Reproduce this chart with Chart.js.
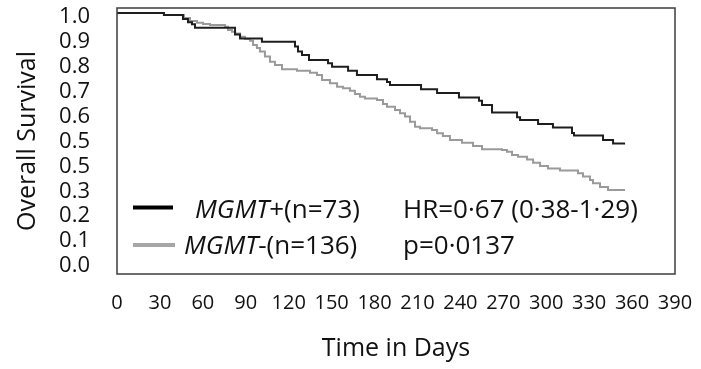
<!DOCTYPE html>
<html>
<head>
<meta charset="utf-8">
<script src="https://cdn.jsdelivr.net/npm/chart.js@4/dist/chart.umd.min.js"></script>
<style>
  html, body { margin: 0; padding: 0; background: #fff; }
  canvas { display: block; }
</style>
</head>
<body>
<canvas id="c" width="701" height="369"></canvas>
<script>
// ---- data ----
const mgmtPosDays = [0, 32.8, 46.1, 49.6, 52.4, 54.5, 82.5, 86.0, 101.3, 124.4, 126.5, 129.3, 134.2, 147.5, 150.3, 161.5, 167.7, 181.7, 188.7, 190.8, 212.5, 223.7, 239.0, 253.0, 255.1, 262.1, 279.6, 281.7, 294.3, 304.7, 318.0, 319.4, 339.7, 346.7, 355.1];
const mgmtPosSurv = [1.000, 0.992, 0.976, 0.963, 0.955, 0.941, 0.914, 0.898, 0.885, 0.865, 0.845, 0.831, 0.811, 0.798, 0.784, 0.768, 0.751, 0.734, 0.723, 0.711, 0.694, 0.679, 0.661, 0.648, 0.631, 0.600, 0.581, 0.570, 0.554, 0.540, 0.518, 0.508, 0.490, 0.476, 0.476];

const mgmtNegDays = [0, 32.8, 46.8, 51.0, 55.9, 60.1, 65.0, 75.5, 77.6, 80.4, 82.5, 86.0, 89.5, 93.0, 95.1, 97.8, 99.9, 103.4, 106.9, 110.4, 115.3, 125.8, 134.9, 139.8, 143.3, 148.9, 153.8, 158.0, 162.8, 166.3, 169.8, 173.3, 181.7, 185.9, 188.7, 194.3, 197.8, 201.3, 204.8, 208.3, 211.8, 220.2, 223.7, 227.8, 232.7, 241.1, 248.8, 255.1, 269.1, 272.6, 276.1, 280.3, 286.6, 290.8, 295.7, 301.2, 309.6, 322.2, 325.7, 330.6, 332.7, 337.6, 343.2, 355.1];
const mgmtNegSurv = [1.000, 0.992, 0.980, 0.968, 0.961, 0.956, 0.952, 0.945, 0.932, 0.925, 0.918, 0.905, 0.896, 0.889, 0.871, 0.859, 0.845, 0.825, 0.804, 0.791, 0.774, 0.768, 0.760, 0.751, 0.731, 0.718, 0.704, 0.698, 0.688, 0.675, 0.664, 0.657, 0.651, 0.635, 0.624, 0.610, 0.597, 0.584, 0.563, 0.543, 0.537, 0.530, 0.517, 0.506, 0.490, 0.479, 0.466, 0.453, 0.450, 0.443, 0.430, 0.423, 0.412, 0.399, 0.386, 0.376, 0.367, 0.356, 0.343, 0.329, 0.316, 0.301, 0.289, 0.289];

const xTickValues = [0, 30, 60, 90, 120, 150, 180, 210, 240, 270, 300, 330, 360, 390];
const xTickLabels = ["0", "30", "60", "90", "120", "150", "180", "210", "240", "270", "300", "330", "360", "390"];
const yTickValues = [0, 0.1, 0.2, 0.3, 0.4, 0.5, 0.6, 0.7, 0.8, 0.9, 1.0];
const yTickLabels = ["0.0", "0.1", "0.2", "0.3", "0.5", "0.5", "0.6", "0.7", "0.8", "0.9", "1.0"];

const seriesNames = ["MGMT", "MGMT"];
const seriesSuffix = ["+(n=73)", "-(n=136)"];
const statsText = ["HR=0\u00B767 (0\u00B738-1\u00B729)", "p=0\u00B70137"];

const xTitle = "Time in Days";
const yTitle = "Overall Survival";

// ---- build ----
const toPoints = (xs, ys) => xs.map((x, i) => ({ x: x, y: ys[i] }));

const FONT = "'Open Sans', 'DejaVu Sans', sans-serif";

const boxAndLegend = {
  id: 'boxAndLegend',
  afterDatasetsDraw(chart) {
    const { ctx, chartArea: a } = chart;
    ctx.save();
    ctx.strokeStyle = '#3c3c3c';
    ctx.lineWidth = 1.5;
    ctx.strokeRect(a.left, a.top, a.right - a.left, a.bottom - a.top);

    // legend
    const rows = [
      { color: '#000000', lineY: 207.5, x1: 133, x2: 173, textX: 195, base: 218 },
      { color: '#a6a6a6', lineY: 245, x1: 133, x2: 175, textX: 184, base: 254 }
    ];
    rows.forEach((r, i) => {
      ctx.strokeStyle = r.color;
      ctx.lineWidth = 4;
      ctx.beginPath();
      ctx.moveTo(r.x1, r.lineY);
      ctx.lineTo(r.x2, r.lineY);
      ctx.stroke();
      ctx.fillStyle = '#111';
      ctx.textBaseline = 'alphabetic';
      ctx.textAlign = 'left';
      ctx.font = "italic 26px " + FONT;
      ctx.fillText(seriesNames[i], r.textX, r.base);
      const w = ctx.measureText(seriesNames[i]).width;
      ctx.font = "26px " + FONT;
      ctx.fillText(seriesSuffix[i], r.textX + w, r.base);
      ctx.fillText(statsText[i], 403, r.base);
    });
    ctx.restore();
  }
};

new Chart(document.getElementById('c'), {
  type: 'line',
  data: {
    datasets: [
      {
        label: 'MGMT+(n=73)',
        data: toPoints(mgmtPosDays, mgmtPosSurv),
        borderColor: '#1e1e1e',
        borderWidth: 2,
        pointRadius: 0,
        stepped: true,
        fill: false
      },
      {
        label: 'MGMT-(n=136)',
        data: toPoints(mgmtNegDays, mgmtNegSurv),
        borderColor: '#9a9a9a',
        borderWidth: 2,
        pointRadius: 0,
        stepped: true,
        fill: false
      }
    ]
  },
  options: {
    responsive: false,
    animation: false,
    devicePixelRatio: 1,
    layout: { padding: { left: 0, right: 26, top: 8, bottom: 0 } },
    plugins: {
      legend: { display: false },
      tooltip: { enabled: false }
    },
    scales: {
      x: {
        type: 'linear',
        min: 0,
        max: 390,
        grid: { display: false, drawTicks: true, tickLength: 17 },
        border: { display: false },
        afterBuildTicks(scale) { scale.ticks = xTickValues.map(v => ({ value: v })); },
        afterFit(scale) { scale.height = 95; },
        ticks: {
          autoSkip: false,
          maxRotation: 0,
          padding: 0,
          color: '#111',
          font: { family: FONT, size: 20 },
          callback: (v) => { const i = xTickValues.indexOf(v); return i >= 0 ? xTickLabels[i] : ''; }
        },
        title: {
          display: true,
          text: xTitle,
          color: '#111',
          font: { family: FONT, size: 25 },
          padding: { top: 0, bottom: 5 }
        }
      },
      y: {
        type: 'linear',
        min: -0.0482,
        max: 1.0201,
        grid: { display: false, drawTicks: true, tickLength: 27 },
        border: { display: false },
        afterBuildTicks(scale) { scale.ticks = yTickValues.map(v => ({ value: v })); },
        afterFit(scale) { scale.width = 117; },
        ticks: {
          autoSkip: false,
          padding: 0,
          labelOffset: 4,
          color: '#111',
          font: { family: FONT, size: 22, lineHeight: 0.7 },
          callback: (v) => {
            const i = yTickValues.findIndex(t => Math.abs(t - v) < 1e-6);
            return i >= 0 ? yTickLabels[i] : '';
          }
        },
        title: {
          display: true,
          text: yTitle,
          color: '#111',
          font: { family: FONT, size: 25 },
          padding: { top: 13, bottom: 0 }
        }
      }
    }
  },
  plugins: [boxAndLegend]
});
</script>
</body>
</html>
